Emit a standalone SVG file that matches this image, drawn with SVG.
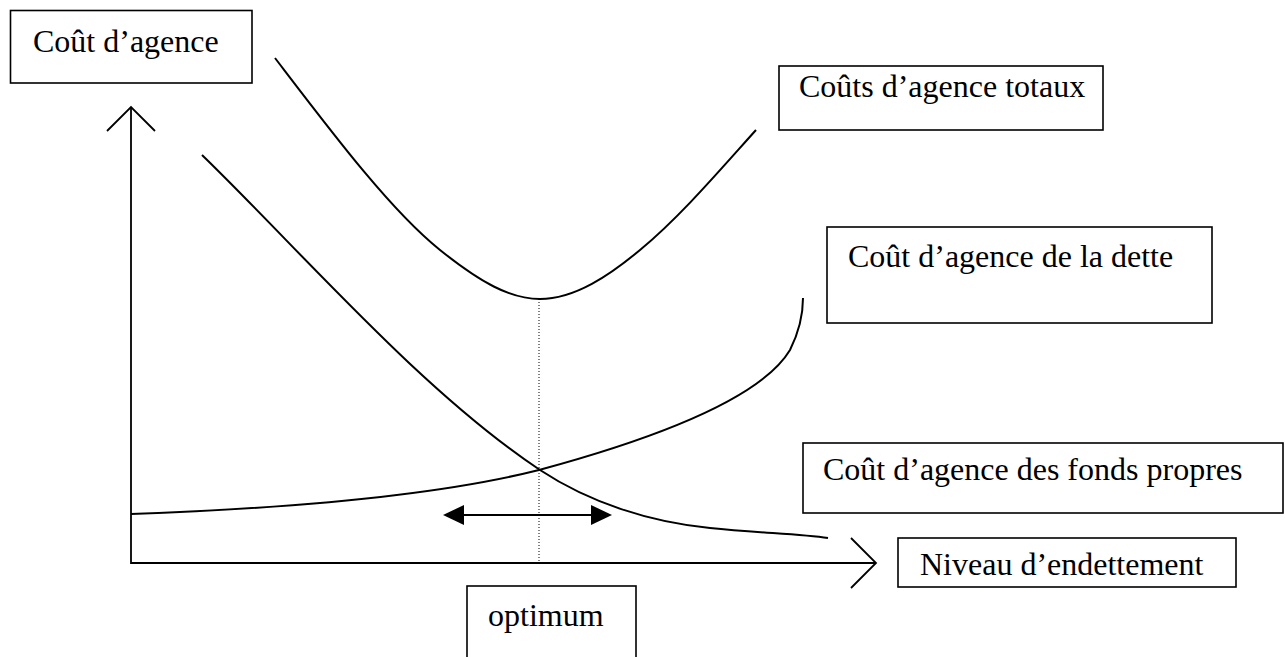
<svg xmlns="http://www.w3.org/2000/svg" width="1285" height="657" viewBox="0 0 1285 657">
<style>
.box{fill:#fff;stroke:#000;stroke-width:1.6}
.lbl{font-family:"Liberation Serif","Times New Roman",serif;font-size:32px;fill:#000}
.ax{fill:none;stroke:#000;stroke-width:1.8}
.cv{fill:none;stroke:#000;stroke-width:2}
</style>
<rect width="1285" height="657" fill="#fff"/>
<g id="connectors">
<polyline class="ax" points="131,107 131,563 876,563"/>
<polyline class="ax" points="107,131 131,107 155,131"/>
<polyline class="ax" points="851,538 876,563 851,588"/>
<path id="total" class="cv" d="M275,58 C330,130 390,210 440,250 C480,282 510,299 540,299 C575,299 610,275 640,250 C680,217 720,170 756,130"/>
<path id="equity" class="cv" d="M202,155 C300,250 420,390 540,470 C590,503 650,522 710,528 C760,533 800,534 828,538"/>
<path id="debt" class="cv" d="M131,514 C300,508 440,495 539,470 C650,440 760,400 790,350 C800,330 803,310 803,298"/>
<line x1="539" y1="299" x2="539" y2="563" stroke="#000" stroke-width="1" stroke-dasharray="1,2"/>
<line x1="455" y1="515" x2="600" y2="515" stroke="#000" stroke-width="2"/>
<polygon points="443,515 464,505 464,525" fill="#000"/>
<polygon points="612,515 591,505 591,525" fill="#000"/>
</g>
<g id="n-cout"><rect class="box" x="10.5" y="10.5" width="241.5" height="72.5"/><text class="lbl" x="33" y="52">Coût d’agence</text></g>
<g id="n-totaux"><rect class="box" x="779" y="66" width="324" height="64"/><text class="lbl" x="799" y="97">Coûts d’agence totaux</text></g>
<g id="n-dette"><rect class="box" x="827" y="227" width="385" height="96"/><text class="lbl" x="848" y="267">Coût d’agence de la dette</text></g>
<g id="n-fonds"><rect class="box" x="803" y="443" width="480" height="70"/><text class="lbl" x="823" y="480">Coût d’agence des fonds propres</text></g>
<g id="n-niveau"><rect class="box" x="898" y="538" width="338" height="49"/><text class="lbl" x="920" y="575">Niveau d’endettement</text></g>
<g id="n-optimum"><rect class="box" x="467" y="586" width="169" height="80"/><text class="lbl" x="488" y="626">optimum</text></g>
</svg>
